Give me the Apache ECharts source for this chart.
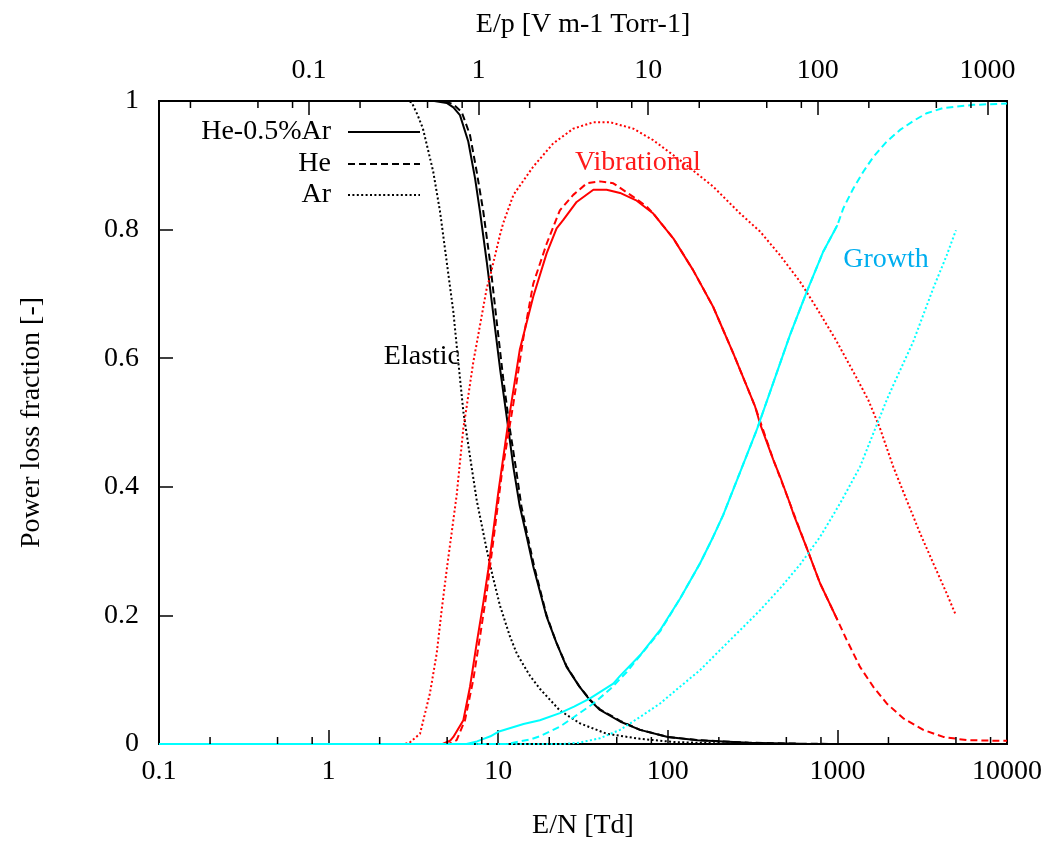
<!DOCTYPE html>
<html>
<head>
<meta charset="utf-8">
<script src="https://cdn.jsdelivr.net/npm/echarts@6/dist/echarts.min.js"></script>
<style>
html,body{margin:0;padding:0;background:#fff;}
#chart{width:1051px;height:842px;}
</style>
</head>
<body>
<div id="chart"></div>
<script>
// ---------- data (E/N [Td], power loss fraction) ----------
const elasticMix = [[0.1,1],[4.2,1],[4.97,0.997],[5.44,0.990],[5.95,0.978],[6.66,0.937],[7.3,0.88],[7.81,0.828],[8.56,0.75],[9.16,0.688],[10.25,0.584],[11.4,0.496],[12.3,0.43],[13.4,0.37],[14.8,0.32],[16.1,0.276],[19.3,0.198],[22,0.158],[25.3,0.12],[30,0.09],[34.8,0.068],[39.8,0.053],[52.3,0.035],[68.6,0.022],[100,0.011],[150,0.006],[300,0.002],[600,0.0005],[1000,0]];
const elasticHe = [[0.1,1],[4.8,1],[5.44,0.995],[6.09,0.983],[6.82,0.947],[7.47,0.89],[8.17,0.828],[8.95,0.75],[9.8,0.657],[10.7,0.569],[11.7,0.491],[12.7,0.43],[13.7,0.37],[15,0.32],[16.3,0.276],[19.3,0.2],[22,0.158],[25.3,0.121],[30,0.09],[34.8,0.069],[39.8,0.054],[52.3,0.036],[68.6,0.022],[100,0.011],[150,0.006],[300,0.002],[600,0.0005],[1000,0],[10000,0]];
const elasticAr = [[0.1,1],[2.9,1],[3.09,0.998],[3.35,0.978],[3.6,0.957],[4.14,0.89],[4.54,0.828],[4.97,0.75],[5.44,0.672],[5.82,0.594],[6.23,0.517],[6.82,0.447],[7.47,0.379],[8.56,0.302],[9.3,0.26],[10.25,0.215],[11.7,0.168],[12.9,0.14],[15.4,0.106],[17.6,0.086],[23.1,0.052],[30.4,0.032],[43.6,0.016],[68.6,0.008],[110,0.003],[200,0.001],[400,0],[5000,0]];

const vibMix = [[0.1,0],[4.7,0],[5.2,0.005],[5.44,0.011],[6.23,0.037],[6.82,0.089],[7.47,0.157],[8.17,0.22],[8.74,0.271],[10.0,0.39],[11.4,0.496],[13.4,0.613],[16.1,0.696],[19.3,0.763],[22.1,0.802],[24.2,0.815],[29,0.843],[36.4,0.862],[43.6,0.862],[52.3,0.857],[65.6,0.845],[82.1,0.825],[108,0.786],[141,0.737],[185,0.68],[243,0.608],[327,0.525],[350,0.498],[419,0.442],[459,0.416],[525,0.374],[550,0.358],[659,0.305],[790,0.25],[1000,0.193]];
const vibHe = [[0.1,0],[5.1,0],[5.69,0.006],[6.37,0.037],[7.13,0.10],[7.81,0.167],[8.6,0.24],[9.4,0.32],[10.5,0.42],[12.3,0.53],[14.1,0.633],[16.1,0.716],[19.3,0.778],[23.1,0.83],[27.7,0.854],[33.3,0.872],[39.8,0.875],[47.7,0.872],[62.6,0.851],[75.1,0.836],[82.1,0.825],[108,0.786],[141,0.737],[185,0.68],[243,0.608],[327,0.525],[419,0.442],[525,0.374],[659,0.305],[790,0.25],[1000,0.193],[1134,0.162],[1359,0.12],[1628,0.089],[1953,0.063],[2447,0.04],[3210,0.022],[4211,0.011],[5786,0.006],[9093,0.005],[10000,0.005]];
const vibAr = [[0.1,0],[2.8,0],[3.0,0.002],[3.46,0.016],[3.96,0.079],[4.34,0.141],[4.64,0.208],[4.97,0.271],[5.69,0.387],[6.23,0.491],[6.52,0.525],[7.13,0.594],[7.47,0.623],[8.56,0.709],[8.95,0.727],[10.25,0.792],[10.7,0.81],[12.3,0.854],[16.1,0.898],[21.1,0.934],[27.7,0.957],[36.4,0.967],[45.6,0.967],[62.6,0.957],[82.1,0.939],[118,0.908],[185,0.867],[267,0.825],[350,0.797],[459,0.76],[602,0.719],[755,0.678],[991,0.626],[1300,0.569],[1521,0.535],[1783,0.491],[2136,0.431],[2563,0.379],[3069,0.328],[3677,0.281],[4411,0.234],[5000,0.2]];

const growthMix = [[0.1,0],[6.5,0],[7.5,0.004],[8.2,0.008],[9.0,0.012],[10.0,0.019],[14.1,0.031],[17.6,0.037],[23.1,0.048],[28,0.058],[34.8,0.071],[47.7,0.094],[52.3,0.106],[68.6,0.138],[90,0.177],[118,0.226],[155,0.281],[185,0.322],[212,0.356],[267,0.423],[334,0.488],[419,0.562],[525,0.636],[659,0.703],[826,0.766],[1000,0.807]];
const growthHe = [[0.1,0],[11.2,0],[15.4,0.007],[17.6,0.012],[23.1,0.027],[28,0.042],[36.4,0.063],[45.6,0.085],[57.3,0.112],[75.1,0.15],[90,0.175],[118,0.226],[155,0.281],[185,0.322],[212,0.356],[267,0.423],[334,0.488],[419,0.562],[525,0.636],[659,0.703],[826,0.766],[1000,0.807],[1083,0.833],[1241,0.864],[1421,0.89],[1628,0.913],[1953,0.937],[2339,0.955],[2803,0.969],[3362,0.981],[4200,0.989],[6329,0.994],[10000,0.996]];
const growthAr = [[0.1,0],[24,0],[30,0.002],[39.8,0.009],[52.3,0.022],[68.6,0.042],[90,0.063],[118,0.089],[155,0.115],[203,0.146],[267,0.177],[350,0.208],[459,0.242],[602,0.279],[790,0.322],[1036,0.374],[1359,0.431],[1628,0.483],[1953,0.535],[2136,0.558],[2803,0.626],[3677,0.709],[4411,0.76],[5000,0.799]];

const gasNames = ['He-0.5%Ar','He','Ar'];
const yTicks = [0,0.2,0.4,0.6,0.8,1];
const enRange = [0.1, 10000];
const epPerTd = 0.1305;               // E/p [V m-1 Torr-1] per E/N [Td]
const minorMultipliers = [2,5,8];
const bottomDecades = [0.1,1,10,100,1000];
const topDecades = [0.01,0.1,1,10,100,1000];
const annotationTexts = ['Elastic','Vibrational','Growth'];
const annotationAnchors = [[3.55,0.603],[66.7,0.904],[1935,0.753]];

// ---------- styles ----------
const FONT = 'Liberation Serif';
const FS = 28;
const BLACK = '#000000', RED = '#ff0000', CYAN = '#00ffff';
const annotationColors = [BLACK, '#ff1a1a', '#00aeef'];
const gasDash = ['solid', [7,4], [2,2.4]];
const gasWidth = [2, 2, 2];

const bottomMinor = [];
bottomDecades.forEach(d => minorMultipliers.forEach(m => bottomMinor.push(+(d*m).toPrecision(6))));
const topMin = enRange[0]*epPerTd, topMax = enRange[1]*epPerTd;
const topMinor = [];
topDecades.forEach(d => minorMultipliers.forEach(m => { const v = +(d*m).toPrecision(6); if (v > topMin && v < topMax) topMinor.push(v); }));

const plainNum = v => String(+(+v).toPrecision(6));

function lineSeries(name, data, color, gi) {
  return {
    name: name, type: 'line', data: data, xAxisIndex: 0, yAxisIndex: 0,
    showSymbol: false, symbol: 'none', smooth: false, silent: true,
    lineStyle: { color: color, width: gasWidth[gi], type: gasDash[gi], cap: 'butt' },
    z: 3
  };
}

const series = [
  lineSeries(gasNames[0], elasticMix, BLACK, 0),
  lineSeries(gasNames[1], elasticHe, BLACK, 1),
  lineSeries(gasNames[2], elasticAr, BLACK, 2),
  lineSeries(gasNames[0], vibMix, RED, 0),
  lineSeries(gasNames[1], vibHe, RED, 1),
  lineSeries(gasNames[2], vibAr, RED, 2),
  lineSeries(gasNames[0], growthMix, CYAN, 0),
  lineSeries(gasNames[1], growthHe, CYAN, 1),
  lineSeries(gasNames[2], growthAr, CYAN, 2),
  {
    type: 'custom', xAxisIndex: 0, yAxisIndex: 0, silent: true, clip: false, z: 4,
    data: bottomMinor.map(v => [v, 0]),
    renderItem: function (params, api) {
      const p = api.coord([api.value(0), 0]);
      return { type: 'line', shape: { x1: p[0], y1: p[1], x2: p[0], y2: p[1] - 7 }, style: { stroke: BLACK, lineWidth: 1.5 } };
    }
  },
  {
    type: 'custom', xAxisIndex: 1, yAxisIndex: 0, silent: true, clip: false, z: 4,
    data: topMinor.map(v => [v, 1]),
    renderItem: function (params, api) {
      const p = api.coord([api.value(0), 1]);
      return { type: 'line', shape: { x1: p[0], y1: p[1], x2: p[0], y2: p[1] + 7 }, style: { stroke: BLACK, lineWidth: 1.5 } };
    }
  },
  {
    type: 'custom', xAxisIndex: 0, yAxisIndex: 0, silent: true, clip: false, z: 5,
    data: annotationAnchors.map((a, i) => [a[0], a[1], i]),
    renderItem: function (params, api) {
      const i = api.value(2);
      const p = api.coord([api.value(0), api.value(1)]);
      return { type: 'text', x: p[0], y: p[1], style: { text: annotationTexts[i], fill: annotationColors[i], font: FS + 'px "' + FONT + '"', align: 'center', verticalAlign: 'middle' } };
    }
  }
];

// legend drawn as graphic (text right-aligned, sample on the right)
const legendRows = [132, 164, 195];
const graphic = [];
gasNames.forEach((n, i) => {
  graphic.push({ type: 'text', x: 331, y: legendRows[i], silent: true,
    style: { text: n, fill: BLACK, font: FS + 'px "' + FONT + '"', align: 'right', verticalAlign: 'middle' } });
  graphic.push({ type: 'line', silent: true, shape: { x1: 348, y1: legendRows[i], x2: 420, y2: legendRows[i] },
    style: { stroke: BLACK, lineWidth: gasWidth[i], lineDash: gasDash[i] === 'solid' ? null : gasDash[i] } });
});

const axisFont = { fontFamily: FONT, fontSize: FS, color: BLACK };

const option = {
  animation: false,
  backgroundColor: '#ffffff',
  textStyle: { fontFamily: FONT },
  grid: { left: 159, right: 44, top: 101, bottom: 98, show: true, borderColor: BLACK, borderWidth: 2,
          backgroundColor: 'transparent', containLabel: false, outerBoundsMode: 'none' },
  xAxis: [
    {
      type: 'log', logBase: 10, min: enRange[0], max: enRange[1], position: 'bottom',
      name: 'E/N [Td]', nameLocation: 'middle', nameGap: 68, nameTextStyle: axisFont,
      axisLine: { show: false },
      axisTick: { show: true, inside: true, length: 14, lineStyle: { color: BLACK, width: 1.5 } },
      minorTick: { show: false },
      axisLabel: Object.assign({ margin: 14, formatter: plainNum }, axisFont),
      splitLine: { show: false }
    },
    {
      type: 'log', logBase: 10, min: topMin, max: topMax, position: 'top',
      name: 'E/p [V m-1 Torr-1]', nameLocation: 'middle', nameGap: 62, nameTextStyle: axisFont,
      axisLine: { show: false },
      axisTick: { show: true, inside: true, length: 14, lineStyle: { color: BLACK, width: 1.5 } },
      axisLabel: Object.assign({ margin: 16, showMinLabel: false, showMaxLabel: false, formatter: plainNum }, axisFont),
      splitLine: { show: false }
    }
  ],
  yAxis: [
    {
      type: 'value', min: yTicks[0], max: yTicks[yTicks.length - 1], interval: yTicks[1] - yTicks[0],
      name: 'Power loss fraction [-]', nameLocation: 'middle', nameRotate: 90, nameGap: 113, nameTextStyle: axisFont,
      axisLine: { show: false },
      axisTick: { show: true, inside: true, length: 14, lineStyle: { color: BLACK, width: 1.5 } },
      axisLabel: Object.assign({ margin: 20, formatter: v => String(+(+v).toFixed(1)) }, axisFont),
      splitLine: { show: false }
    }
  ],
  graphic: graphic,
  series: series
};

const chart = echarts.init(document.getElementById('chart'), null, { renderer: 'canvas' });
chart.setOption(option);
</script>
</body>
</html>
